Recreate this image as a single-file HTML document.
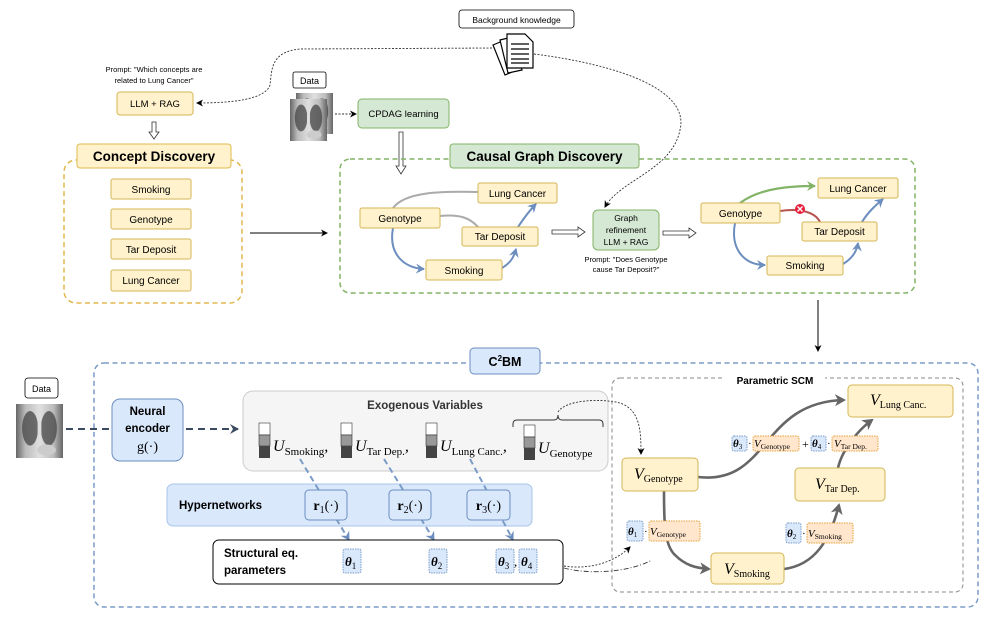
<!DOCTYPE html>
<html><head><meta charset="utf-8"><style>
html,body{margin:0;padding:0;background:#fff;}
svg{display:block;}
text{font-family:"Liberation Sans",sans-serif;}
.m{font-family:"Liberation Serif",serif;}
</style></head><body>
<svg width="996" height="619" viewBox="0 0 996 619" xmlns="http://www.w3.org/2000/svg">
<defs>
<marker id="ak" markerWidth="8" markerHeight="8" refX="6" refY="4" orient="auto" markerUnits="userSpaceOnUse"><path d="M0,0.5 L7,4 L0,7.5 L2,4z" fill="#000"/></marker>
<marker id="ab" markerWidth="10" markerHeight="10" refX="8" refY="5" orient="auto" markerUnits="userSpaceOnUse"><path d="M0,0 L9,5 L0,10 L3,5z" fill="#6c8ebf"/></marker>
<marker id="ag" markerWidth="12" markerHeight="12" refX="9" refY="6" orient="auto" markerUnits="userSpaceOnUse"><path d="M0,0 L11,6 L0,12 L3,6z" fill="#666"/></marker>
<marker id="agr" markerWidth="10" markerHeight="10" refX="8" refY="5" orient="auto" markerUnits="userSpaceOnUse"><path d="M0,0 L9,5 L0,10 L3,5z" fill="#82b366"/></marker>
<marker id="ad" markerWidth="10" markerHeight="10" refX="8" refY="5" orient="auto" markerUnits="userSpaceOnUse"><path d="M0,0 L9,5 L0,10 L3,5z" fill="#3a4a60"/></marker>
<linearGradient id="xr" x1="0" x2="1"><stop offset="0" stop-color="#666"/><stop offset="0.2" stop-color="#bbb"/><stop offset="0.5" stop-color="#e0e0e0"/><stop offset="0.8" stop-color="#bbb"/><stop offset="1" stop-color="#666"/></linearGradient>
<g id="xray">
<rect x="0" y="0" width="100" height="100" fill="url(#xr)"/>
<ellipse cx="30" cy="45" rx="17" ry="32" fill="#444" opacity="0.75"/>
<ellipse cx="70" cy="45" rx="17" ry="32" fill="#444" opacity="0.75"/>
<rect x="46" y="5" width="8" height="90" fill="#ddd"/>
<ellipse cx="65" cy="85" rx="20" ry="10" fill="#ccc"/>
</g>
</defs>

<!-- ===== TOP ===== -->
<rect x="459" y="10" width="115" height="18" rx="3" fill="#fff" stroke="#000" stroke-width="0.8"/>
<text x="516.5" y="23" font-size="8.5" text-anchor="middle">Background knowledge</text>
<g stroke="#000" stroke-width="1.2" fill="#fff">
<path d="M493,45 L505,40 L517,70 L505,75z" />
<path d="M500,40 L512,37 L522,70 L508,73z"/>
<path d="M507,34 L525,34 L533,42 L533,68 L507,68z"/>
</g>
<g stroke="#000" stroke-width="1.2"><line x1="511" y1="44" x2="529" y2="44"/><line x1="511" y1="49" x2="529" y2="49"/><line x1="511" y1="54" x2="529" y2="54"/><line x1="511" y1="59" x2="529" y2="59"/><line x1="511" y1="63" x2="529" y2="63"/></g>
<path d="M492,48 L300,49 C270,52 272,70 270,85 C265,100 230,103 197,103" fill="none" stroke="#333" stroke-width="0.9" stroke-dasharray="2,1.5" marker-end="url(#ak)"/>
<path d="M534,54 C620,65 690,90 680,130 C672,170 620,180 605,207" fill="none" stroke="#333" stroke-width="0.9" stroke-dasharray="2,1.5" marker-end="url(#ak)"/>

<text x="154" y="72" font-size="7.5" text-anchor="middle">Prompt: "Which concepts are</text>
<text x="154" y="83" font-size="7.5" text-anchor="middle">related to Lung Cancer"</text>
<rect x="117" y="92" width="76" height="23" rx="3" fill="#fff2cc" stroke="#d6b656"/>
<text x="155" y="107" font-size="9.5" text-anchor="middle">LLM + RAG</text>
<path d="M152,122 h4 v10 h3 l-5,7 l-5,-7 h3z" fill="#fff" stroke="#333" stroke-width="0.8"/>

<rect x="64" y="160" width="178" height="143" rx="12" fill="none" stroke="#e0b84e" stroke-width="1.5" stroke-dasharray="5,3.5"/>
<rect x="77" y="144" width="154" height="24" rx="3" fill="#fff2cc" stroke="#e0b84e"/>
<text x="154" y="161" font-size="13.5" font-weight="bold" text-anchor="middle">Concept Discovery</text>
<g font-size="10" text-anchor="middle">
<rect x="111" y="179" width="80" height="20" rx="2" fill="#fff2cc" stroke="#d6b656"/><text x="151" y="193">Smoking</text>
<rect x="111" y="209" width="80" height="20" rx="2" fill="#fff2cc" stroke="#d6b656"/><text x="151" y="223">Genotype</text>
<rect x="111" y="239" width="80" height="20" rx="2" fill="#fff2cc" stroke="#d6b656"/><text x="151" y="253">Tar Deposit</text>
<rect x="111" y="270" width="80" height="21" rx="2" fill="#fff2cc" stroke="#d6b656"/><text x="151" y="284">Lung Cancer</text>
</g>
<line x1="250" y1="233" x2="327" y2="233" stroke="#000" stroke-width="1" marker-end="url(#ak)"/>

<rect x="293" y="72" width="33" height="16" rx="2" fill="#fff" stroke="#000" stroke-width="0.8"/>
<text x="309.5" y="84" font-size="9" text-anchor="middle">Data</text>
<use href="#xray" transform="translate(296,93) scale(0.37,0.41)"/>
<use href="#xray" transform="translate(290,99) scale(0.37,0.42)"/>
<line x1="335" y1="114" x2="356" y2="114" stroke="#333" stroke-width="0.9" stroke-dasharray="2,1.5" marker-end="url(#ak)"/>
<rect x="358" y="99" width="91" height="29" rx="4" fill="#d5e8d4" stroke="#82b366"/>
<text x="403.5" y="117" font-size="9.5" text-anchor="middle">CPDAG learning</text>
<path d="M399,132 h4 v34 h3 l-5,8 l-5,-8 h3z" fill="#fff" stroke="#333" stroke-width="0.8"/>

<rect x="340" y="159" width="575" height="134" rx="10" fill="none" stroke="#82b366" stroke-width="1.5" stroke-dasharray="5,3.5"/>
<rect x="450" y="144" width="189" height="24" rx="3" fill="#d5e8d4" stroke="#82b366"/>
<text x="544.5" y="161" font-size="13.5" font-weight="bold" text-anchor="middle">Causal Graph Discovery</text>

<path d="M393,208 C405,192 440,191 478,192" fill="none" stroke="#aaa" stroke-width="2"/>
<path d="M440,216 C460,214 470,218 478,227" fill="none" stroke="#aaa" stroke-width="2"/>
<path d="M393,228 C388,255 405,268 424,269" fill="none" stroke="#6c8ebf" stroke-width="2" marker-end="url(#ab)"/>
<path d="M502,268 C512,262 514,256 516,249" fill="none" stroke="#6c8ebf" stroke-width="2" marker-end="url(#ab)"/>
<path d="M518,227 C524,218 530,210 536,204" fill="none" stroke="#6c8ebf" stroke-width="2" marker-end="url(#ab)"/>
<g font-size="10" text-anchor="middle">
<rect x="478" y="183" width="79" height="20" rx="2" fill="#fff2cc" stroke="#d6b656"/><text x="517.5" y="197">Lung Cancer</text>
<rect x="360" y="208" width="80" height="20" rx="2" fill="#fff2cc" stroke="#d6b656"/><text x="400" y="222">Genotype</text>
<rect x="462" y="227" width="76" height="19" rx="2" fill="#fff2cc" stroke="#d6b656"/><text x="500" y="240">Tar Deposit</text>
<rect x="426" y="260" width="76" height="20" rx="2" fill="#fff2cc" stroke="#d6b656"/><text x="464" y="274">Smoking</text>
</g>
<path d="M552,230 h26 v-3 l7,5 l-7,5 v-3 h-26z" fill="#fff" stroke="#333" stroke-width="0.8"/>
<rect x="593" y="210" width="66" height="40" rx="5" fill="#d5e8d4" stroke="#82b366"/>
<g font-size="8.5" text-anchor="middle"><text x="626" y="221">Graph</text><text x="626" y="233">refinement</text><text x="626" y="245">LLM + RAG</text></g>
<text x="626" y="262" font-size="7.5" text-anchor="middle">Prompt: "Does Genotype</text>
<text x="626" y="272" font-size="7.5" text-anchor="middle">cause Tar Deposit?"</text>
<path d="M663,231 h26 v-3 l7,5 l-7,5 v-3 h-26z" fill="#fff" stroke="#333" stroke-width="0.8"/>

<path d="M740,203 C760,188 790,186 815,186" fill="none" stroke="#82b366" stroke-width="2.2" marker-end="url(#agr)"/>
<path d="M780,211 C800,208 815,212 820,222" fill="none" stroke="#b85450" stroke-width="2"/>
<path d="M735,223 C730,250 745,265 765,265" fill="none" stroke="#6c8ebf" stroke-width="2" marker-end="url(#ab)"/>
<path d="M843,264 C853,258 857,250 858,243" fill="none" stroke="#6c8ebf" stroke-width="2" marker-end="url(#ab)"/>
<path d="M862,222 C868,212 876,205 883,199" fill="none" stroke="#6c8ebf" stroke-width="2" marker-end="url(#ab)"/>
<circle cx="800" cy="209" r="5" fill="#e51f3c"/>
<path d="M797.5,206.5 l5,5 M802.5,206.5 l-5,5" stroke="#fff" stroke-width="1.4"/>
<g font-size="10" text-anchor="middle">
<rect x="818" y="178" width="80" height="20" rx="2" fill="#fff2cc" stroke="#d6b656"/><text x="858" y="192">Lung Cancer</text>
<rect x="701" y="203" width="79" height="20" rx="2" fill="#fff2cc" stroke="#d6b656"/><text x="740.5" y="217">Genotype</text>
<rect x="802" y="222" width="75" height="19" rx="2" fill="#fff2cc" stroke="#d6b656"/><text x="839.5" y="235">Tar Deposit</text>
<rect x="767" y="256" width="76" height="19" rx="2" fill="#fff2cc" stroke="#d6b656"/><text x="805" y="269">Smoking</text>
</g>
<line x1="818" y1="300" x2="818" y2="351" stroke="#000" stroke-width="1" marker-end="url(#ak)"/>

<!-- ===== BOTTOM ===== -->
<rect x="94" y="363" width="884" height="244" rx="10" fill="none" stroke="#7b9cc7" stroke-width="1.5" stroke-dasharray="5,3.5"/>
<rect x="470" y="348" width="70" height="26" rx="4" fill="#dae8fc" stroke="#6c8ebf"/>
<text x="505" y="366" font-size="12.5" font-weight="bold" text-anchor="middle">C<tspan font-size="8" dy="-5">2</tspan><tspan dy="5">BM</tspan></text>

<rect x="25" y="378" width="33" height="20" rx="3" fill="#fff" stroke="#000" stroke-width="0.8"/>
<text x="41.5" y="392" font-size="9" text-anchor="middle">Data</text>
<use href="#xray" transform="translate(16,404) scale(0.47,0.54)"/>
<line x1="66" y1="429" x2="238" y2="429" stroke="#3a4a60" stroke-width="2" stroke-dasharray="7,5" marker-end="url(#ad)"/>
<rect x="112" y="399" width="71" height="62" rx="8" fill="#dae8fc" stroke="#6c8ebf"/>
<text x="147.5" y="415" font-size="11.5" font-weight="bold" text-anchor="middle">Neural</text>
<text x="147.5" y="432" font-size="11.5" font-weight="bold" text-anchor="middle">encoder</text>
<text x="147.5" y="451" font-size="14" class="m" text-anchor="middle">g(·)</text>

<rect x="243" y="391" width="365" height="80" rx="10" fill="#f5f5f5" stroke="#ccc"/>
<text x="425" y="409" font-size="11.5" font-weight="bold" fill="#333" text-anchor="middle">Exogenous Variables</text>
<g>
<rect x="259" y="423" width="11" height="12" fill="#fff" stroke="#333" stroke-width="0.6"/><rect x="259" y="435" width="11" height="11" fill="#999" stroke="#333" stroke-width="0.6"/><rect x="259" y="446" width="11" height="12" fill="#444"/>
<rect x="341" y="423" width="11" height="12" fill="#fff" stroke="#333" stroke-width="0.6"/><rect x="341" y="435" width="11" height="11" fill="#999" stroke="#333" stroke-width="0.6"/><rect x="341" y="446" width="11" height="12" fill="#444"/>
<rect x="426" y="423" width="11" height="12" fill="#fff" stroke="#333" stroke-width="0.6"/><rect x="426" y="435" width="11" height="11" fill="#999" stroke="#333" stroke-width="0.6"/><rect x="426" y="446" width="11" height="12" fill="#444"/>
<rect x="524" y="425" width="11" height="12" fill="#fff" stroke="#333" stroke-width="0.6"/><rect x="524" y="437" width="11" height="11" fill="#999" stroke="#333" stroke-width="0.6"/><rect x="524" y="448" width="11" height="12" fill="#444"/>
</g>
<g class="m" font-size="16">
<text x="273" y="451" font-style="italic" class="m">U<tspan font-size="11" font-style="normal" dy="4">Smoking</tspan><tspan dy="-4">,</tspan></text>
<text x="355" y="451" font-style="italic" class="m">U<tspan font-size="11" font-style="normal" dy="4">Tar Dep.</tspan><tspan dy="-4">,</tspan></text>
<text x="440" y="451" font-style="italic" class="m">U<tspan font-size="11" font-style="normal" dy="4">Lung Canc.</tspan><tspan dy="-4">,</tspan></text>
<text x="538" y="453" font-style="italic" class="m">U<tspan font-size="11" font-style="normal" dy="4">Genotype</tspan></text>
</g>
<path d="M513,427 v-3 q0,-4 4,-4 h37 q4,0 4,-5 q0,5 4,5 h37 q4,0 4,4 v3" fill="none" stroke="#333" stroke-width="1"/>
<path d="M558,412 C565,400 600,398 620,403 C640,410 641,430 641,454" fill="none" stroke="#333" stroke-width="0.9" stroke-dasharray="2,1.5" marker-end="url(#ak)"/>

<rect x="167" y="484" width="365" height="42" rx="6" fill="#dae8fc" stroke="#a9c4eb"/>
<text x="179" y="509" font-size="11.5" font-weight="bold">Hypernetworks</text>
<g stroke="#7b9cc7" stroke-width="2" stroke-dasharray="6,4" fill="none">
<line x1="300" y1="459" x2="349" y2="540" marker-end="url(#ab)"/>
<line x1="384" y1="459" x2="434" y2="540" marker-end="url(#ab)"/>
<line x1="470" y1="459" x2="513" y2="540" marker-end="url(#ab)"/>
</g>
<g class="m" font-size="14">
<rect x="305" y="490" width="42" height="30" rx="4" fill="#dae8fc" stroke="#6c8ebf"/><text x="326" y="510" text-anchor="middle" class="m"><tspan font-weight="bold">r</tspan><tspan font-size="10" dy="3">1</tspan><tspan dy="-3">(·)</tspan></text>
<rect x="389" y="490" width="42" height="30" rx="4" fill="#dae8fc" stroke="#6c8ebf"/><text x="410" y="510" text-anchor="middle" class="m"><tspan font-weight="bold">r</tspan><tspan font-size="10" dy="3">2</tspan><tspan dy="-3">(·)</tspan></text>
<rect x="467" y="490" width="43" height="30" rx="4" fill="#dae8fc" stroke="#6c8ebf"/><text x="488.5" y="510" text-anchor="middle" class="m"><tspan font-weight="bold">r</tspan><tspan font-size="10" dy="3">3</tspan><tspan dy="-3">(·)</tspan></text>
</g>

<rect x="213" y="540" width="350" height="44" rx="6" fill="#fff" stroke="#000" stroke-width="1"/>
<text x="224" y="557" font-size="11.5" font-weight="bold">Structural eq.</text>
<text x="224" y="574" font-size="11.5" font-weight="bold">parameters</text>
<g class="m" font-size="13" font-weight="bold" font-style="italic">
<rect x="343" y="549" width="18" height="24" rx="2" fill="#dae8fc" stroke="#7b9cc7" stroke-dasharray="1.5,1"/><text x="345" y="566" class="m">θ<tspan font-size="9" font-weight="normal" font-style="normal" dy="3">1</tspan></text>
<rect x="429" y="549" width="18" height="24" rx="2" fill="#dae8fc" stroke="#7b9cc7" stroke-dasharray="1.5,1"/><text x="431" y="566" class="m">θ<tspan font-size="9" font-weight="normal" font-style="normal" dy="3">2</tspan></text>
<rect x="496" y="549" width="18" height="24" rx="2" fill="#dae8fc" stroke="#7b9cc7" stroke-dasharray="1.5,1"/><text x="498" y="566" class="m">θ<tspan font-size="9" font-weight="normal" font-style="normal" dy="3">3</tspan></text>
<text x="514" y="566" class="m" font-weight="normal" font-style="normal">,</text>
<rect x="519" y="549" width="18" height="24" rx="2" fill="#dae8fc" stroke="#7b9cc7" stroke-dasharray="1.5,1"/><text x="521" y="566" class="m">θ<tspan font-size="9" font-weight="normal" font-style="normal" dy="3">4</tspan></text>
</g>
<path d="M564,566 C590,570 615,562 630,547" fill="none" stroke="#333" stroke-width="0.9" stroke-dasharray="2,1.5" marker-end="url(#ak)"/>
<path d="M564,568 C590,575 630,572 652,560" fill="none" stroke="#333" stroke-width="0.9" stroke-dasharray="5,2,1,2"/>

<rect x="612" y="378" width="351" height="214" rx="8" fill="none" stroke="#888" stroke-width="1" stroke-dasharray="4,3"/>
<rect x="725" y="372" width="100" height="14" fill="#fff"/>
<text x="775" y="384" font-size="10" font-weight="bold" text-anchor="middle">Parametric SCM</text>
<g fill="none" stroke="#666" stroke-width="2.6">
<path d="M698,477 C770,485 760,402 844,400" marker-end="url(#ag)"/>
<path d="M664,491 C664,520 664,545 675,555 C685,565 695,568 709,569" marker-end="url(#ag)"/>
<path d="M784,569 C815,565 830,540 839,505" marker-end="url(#ag)"/>
<path d="M838,468 C842,450 858,430 872,420" marker-end="url(#ag)"/>
</g>
<g class="m" font-size="16" font-style="italic">
<rect x="848" y="385" width="105" height="32" rx="4" fill="#fff2cc" stroke="#d6b656"/><text x="870" y="405" class="m">V<tspan font-size="10" font-style="normal" dy="3">Lung Canc.</tspan></text>
<rect x="622" y="458" width="76" height="33" rx="4" fill="#fff2cc" stroke="#d6b656"/><text x="634" y="479" class="m">V<tspan font-size="10" font-style="normal" dy="3">Genotype</tspan></text>
<rect x="795" y="468" width="90" height="33" rx="4" fill="#fff2cc" stroke="#d6b656"/><text x="815" y="489" class="m">V<tspan font-size="10" font-style="normal" dy="3">Tar Dep.</tspan></text>
<rect x="711" y="553" width="73" height="31" rx="4" fill="#fff2cc" stroke="#d6b656"/><text x="724" y="574" class="m">V<tspan font-size="10" font-style="normal" dy="3">Smoking</tspan></text>
</g>
<g class="m" font-size="11">
<rect x="732" y="436" width="15" height="15" rx="2" fill="#dae8fc" stroke="#7b9cc7" stroke-dasharray="1.5,1"/><text x="733" y="447" class="m" font-weight="bold" font-style="italic">θ<tspan font-size="7" font-style="normal" font-weight="normal" dy="2">3</tspan></text>
<text x="748" y="447" class="m">·</text>
<rect x="753" y="436" width="46" height="15" rx="2" fill="#ffe6cc" stroke="#e6a23c" stroke-dasharray="1.5,1"/><text x="754" y="447" class="m" font-style="italic">V<tspan font-size="7.5" font-style="normal" dy="2">Genotype</tspan></text>
<text x="802" y="448" class="m" font-size="12">+</text>
<rect x="811" y="436" width="15" height="15" rx="2" fill="#dae8fc" stroke="#7b9cc7" stroke-dasharray="1.5,1"/><text x="812" y="447" class="m" font-weight="bold" font-style="italic">θ<tspan font-size="7" font-style="normal" font-weight="normal" dy="2">4</tspan></text>
<text x="827" y="447" class="m">·</text>
<rect x="832" y="436" width="46" height="15" rx="2" fill="#ffe6cc" stroke="#e6a23c" stroke-dasharray="1.5,1"/><text x="834" y="447" class="m" font-style="italic">V<tspan font-size="7.5" font-style="normal" dy="2">Tar Dep.</tspan></text>

<rect x="627" y="521" width="16" height="20" rx="2" fill="#dae8fc" stroke="#7b9cc7" stroke-dasharray="1.5,1"/><text x="628" y="535" class="m" font-weight="bold" font-style="italic">θ<tspan font-size="7" font-style="normal" font-weight="normal" dy="2">1</tspan></text>
<text x="644" y="535" class="m">·</text>
<rect x="649" y="521" width="51" height="20" rx="2" fill="#ffe6cc" stroke="#e6a23c" stroke-dasharray="1.5,1"/><text x="650" y="535" class="m" font-style="italic">V<tspan font-size="7.5" font-style="normal" dy="2">Genotype</tspan></text>

<rect x="786" y="523" width="15" height="20" rx="2" fill="#dae8fc" stroke="#7b9cc7" stroke-dasharray="1.5,1"/><text x="787" y="537" class="m" font-weight="bold" font-style="italic">θ<tspan font-size="7" font-style="normal" font-weight="normal" dy="2">2</tspan></text>
<text x="802" y="537" class="m">·</text>
<rect x="807" y="523" width="46" height="20" rx="2" fill="#ffe6cc" stroke="#e6a23c" stroke-dasharray="1.5,1"/><text x="808" y="537" class="m" font-style="italic">V<tspan font-size="7.5" font-style="normal" dy="2">Smoking</tspan></text>
</g>
</svg>
</body></html>
